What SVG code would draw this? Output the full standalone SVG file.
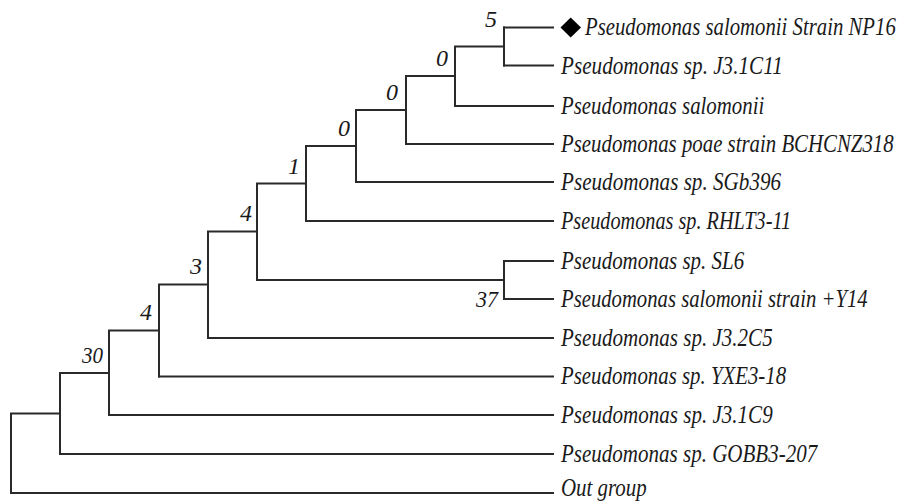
<svg xmlns="http://www.w3.org/2000/svg" width="901" height="502" viewBox="0 0 901 502">
<style>
.br{fill:none;stroke:#2a2a2a;stroke-width:2;stroke-linecap:square}
.tx{font-family:'Liberation Serif',serif;font-style:italic;font-size:25px;fill:#1a1a1a}
.bs{font-family:'Liberation Serif',serif;font-style:italic;font-size:24px;fill:#1a1a1a;text-anchor:end}
</style>
<rect width="901" height="502" fill="#fff"/>
<g id="connectors" class="br">
<path d="M504 27.5H553M504 65.5H553M455 106H553M406 144H553M356 182H553M306 221H553M504 261H553M504 299H553M208 338H553M159 376.5H553M109 415H553M60 454H553M11 493H553"/>
<path d="M504 27.5V65.5M455 46.5H504M455 46.5V106M406 76H455M406 76V144M356 110H406M356 110V182M306 146H356M306 146V221M257 183.5H306M504 261V299M257 280H504M257 183.5V280M208 231.5H257M208 231.5V338M159 284.5H208M159 284.5V376.5M109 330.5H159M109 330.5V415M60 373H109M60 373V454M11 413.5H60M11 413.5V493"/>
</g>
<g id="leaf-np16"><polygon points="570.7,17.5 581,27.5 570.7,37.5 560.5,27.5" fill="#000"/><text class="tx" transform="translate(585 35) scale(0.84 1)" textLength="370" lengthAdjust="spacingAndGlyphs">Pseudomonas salomonii Strain NP16</text></g>
<g id="leaf-j31c11"><text class="tx" transform="translate(561 73.5) scale(0.84 1)" textLength="264" lengthAdjust="spacingAndGlyphs">Pseudomonas sp. J3.1C11</text></g>
<g id="leaf-salomonii"><text class="tx" transform="translate(561 113.5) scale(0.84 1)" textLength="242" lengthAdjust="spacingAndGlyphs">Pseudomonas salomonii</text></g>
<g id="leaf-poae"><text class="tx" transform="translate(561 151.5) scale(0.84 1)" textLength="396" lengthAdjust="spacingAndGlyphs">Pseudomonas poae strain BCHCNZ318</text></g>
<g id="leaf-sgb396"><text class="tx" transform="translate(561 189.5) scale(0.84 1)" textLength="262" lengthAdjust="spacingAndGlyphs">Pseudomonas sp. SGb396</text></g>
<g id="leaf-rhlt3"><text class="tx" transform="translate(561 228.5) scale(0.84 1)" textLength="274" lengthAdjust="spacingAndGlyphs">Pseudomonas sp. RHLT3-11</text></g>
<g id="leaf-sl6"><text class="tx" transform="translate(561 268.5) scale(0.84 1)" textLength="218" lengthAdjust="spacingAndGlyphs">Pseudomonas sp. SL6</text></g>
<g id="leaf-y14"><text class="tx" transform="translate(561 306.5) scale(0.84 1)" textLength="365" lengthAdjust="spacingAndGlyphs">Pseudomonas salomonii strain +Y14</text></g>
<g id="leaf-j32c5"><text class="tx" transform="translate(561 345.5) scale(0.84 1)" textLength="252" lengthAdjust="spacingAndGlyphs">Pseudomonas sp. J3.2C5</text></g>
<g id="leaf-yxe3"><text class="tx" transform="translate(561 384) scale(0.84 1)" textLength="268" lengthAdjust="spacingAndGlyphs">Pseudomonas sp. YXE3-18</text></g>
<g id="leaf-j31c9"><text class="tx" transform="translate(561 422.5) scale(0.84 1)" textLength="252" lengthAdjust="spacingAndGlyphs">Pseudomonas sp. J3.1C9</text></g>
<g id="leaf-gobb3"><text class="tx" transform="translate(561 461.5) scale(0.84 1)" textLength="305" lengthAdjust="spacingAndGlyphs">Pseudomonas sp. GOBB3-207</text></g>
<g id="leaf-outgroup"><text class="tx" transform="translate(561 496) scale(0.84 1)" textLength="102" lengthAdjust="spacingAndGlyphs">Out group</text></g>
<g id="node-a"><text class="bs" x="497" y="27">5</text></g>
<g id="node-b"><text class="bs" x="448" y="66">0</text></g>
<g id="node-c"><text class="bs" x="398" y="100">0</text></g>
<g id="node-d"><text class="bs" x="350" y="136">0</text></g>
<g id="node-e"><text class="bs" x="300" y="174">1</text></g>
<g id="node-f"><text class="bs" x="498" y="307" textLength="22" lengthAdjust="spacingAndGlyphs">37</text></g>
<g id="node-g"><text class="bs" x="252" y="221">4</text></g>
<g id="node-h"><text class="bs" x="202" y="274">3</text></g>
<g id="node-i"><text class="bs" x="152" y="320">4</text></g>
<g id="node-j"><text class="bs" x="103" y="363" textLength="21" lengthAdjust="spacingAndGlyphs">30</text></g>
</svg>
